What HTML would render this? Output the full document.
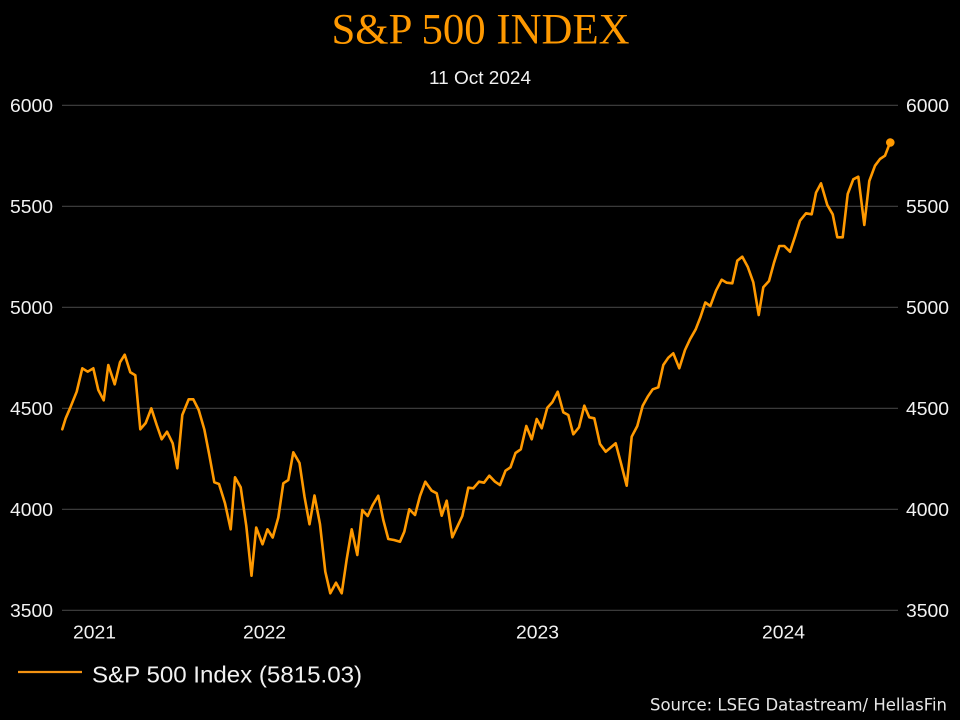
<!DOCTYPE html>
<html>
<head>
<meta charset="utf-8">
<style>
html,body{margin:0;padding:0;background:#000;}
svg{display:block;}
</style>
</head>
<body>
<svg width="960" height="720" viewBox="0 0 960 720" xmlns="http://www.w3.org/2000/svg">
<rect x="0" y="0" width="960" height="720" fill="#000"/>
<text x="480.5" y="43.3" text-anchor="middle" font-family="Liberation Serif, serif" font-size="43" fill="#FF9900" textLength="298" lengthAdjust="spacingAndGlyphs">S&amp;P 500 INDEX</text>
<text x="480" y="84" text-anchor="middle" font-family="Liberation Sans, sans-serif" font-size="18" fill="#f2f2f2" textLength="102" lengthAdjust="spacingAndGlyphs">11 Oct 2024</text>
<g stroke="#424242" stroke-width="1.2">
<line x1="62" y1="105.3" x2="898" y2="105.3"/>
<line x1="62" y1="206.3" x2="898" y2="206.3"/>
<line x1="62" y1="307.3" x2="898" y2="307.3"/>
<line x1="62" y1="408.3" x2="898" y2="408.3"/>
<line x1="62" y1="509.3" x2="898" y2="509.3"/>
<line x1="62" y1="610.3" x2="898" y2="610.3"/>
</g>
<g font-family="Liberation Sans, sans-serif" font-size="18" fill="#f2f2f2">
<text x="53" y="112" text-anchor="end" textLength="43" lengthAdjust="spacingAndGlyphs">6000</text>
<text x="53" y="213" text-anchor="end" textLength="43" lengthAdjust="spacingAndGlyphs">5500</text>
<text x="53" y="314" text-anchor="end" textLength="43" lengthAdjust="spacingAndGlyphs">5000</text>
<text x="53" y="415" text-anchor="end" textLength="43" lengthAdjust="spacingAndGlyphs">4500</text>
<text x="53" y="516" text-anchor="end" textLength="43" lengthAdjust="spacingAndGlyphs">4000</text>
<text x="53" y="617" text-anchor="end" textLength="43" lengthAdjust="spacingAndGlyphs">3500</text>
<text x="906" y="112" textLength="43" lengthAdjust="spacingAndGlyphs">6000</text>
<text x="906" y="213" textLength="43" lengthAdjust="spacingAndGlyphs">5500</text>
<text x="906" y="314" textLength="43" lengthAdjust="spacingAndGlyphs">5000</text>
<text x="906" y="415" textLength="43" lengthAdjust="spacingAndGlyphs">4500</text>
<text x="906" y="516" textLength="43" lengthAdjust="spacingAndGlyphs">4000</text>
<text x="906" y="617" textLength="43" lengthAdjust="spacingAndGlyphs">3500</text>
<text x="73" y="638.5" textLength="43" lengthAdjust="spacingAndGlyphs">2021</text>
<text x="243" y="638.5" textLength="43" lengthAdjust="spacingAndGlyphs">2022</text>
<text x="516" y="638.5" textLength="43" lengthAdjust="spacingAndGlyphs">2023</text>
<text x="762" y="638.5" textLength="43" lengthAdjust="spacingAndGlyphs">2024</text>
</g>
<polyline fill="none" stroke="#FF9900" stroke-width="2.6" stroke-linejoin="round" stroke-linecap="round" points="62.3,429.3 65.7,418.3 70,408.3 76.7,391.7 82.3,368.3 87.7,371.7 93.3,368.3 98.3,390 103.7,400.3 108.3,365 114.7,384.3 120,362.3 124.7,354.7 130.3,372.3 135.3,375.3 140.3,429.3 145.7,423 151.3,408.3 156.7,425 161.7,439.3 167,431.7 172.7,443.3 177.3,468.3 182.3,415 188.7,399.3 193.3,399.3 198.7,410 204.3,429.3 209.3,455 214.3,482.3 219,484 225,503.3 230.7,529.3 235,477.3 240.7,487.3 246.3,526 251.5,575.7 256.2,527.5 262.5,544.3 267.5,529.3 272.7,537.5 278.3,517.5 283.3,483.3 288.3,480 293.3,452.3 299.5,463 304.5,496.7 309.5,524.3 314.5,495.5 320,524.3 325.3,571.7 330.3,593.3 336,582.7 341.7,593.3 346.7,559.3 351.7,529.3 357.3,555 362.3,510 367.7,516 372.7,505 378.3,495.7 383.3,520 388.3,539 394,540 400,541.7 404.3,531.7 409.3,509.3 415,515 420,496 425.3,481.7 431.7,490.7 436.7,493.3 441.7,515.7 446.7,500.7 452.3,537.3 457.3,526.7 462.3,516 468.3,487.7 473.3,488.3 479,481.7 484,482.7 489.3,475.7 495,481.7 500,485 505.5,470.7 510.5,467.3 515.5,453 520.8,449.3 526.3,426 531.7,439.3 536.7,419 541.7,428.3 547.3,407.7 552.3,402.3 557.7,391.7 563.3,412.3 568.3,415 573.3,434.3 579,427.3 584.3,405.7 589.3,417.3 594.3,418.3 600,444 605.7,451.7 611,447.3 615.7,443.3 621,463.3 626.7,485.7 631.7,436.7 637.3,426 642.7,405.7 647.7,396.7 652.7,389.3 658.3,387.3 663.3,365 668.3,357.7 673.3,353.3 679.3,368.3 685,350 690,339.3 695.7,329.3 700.5,317 705.3,302.5 710.3,306 716,290.7 721.7,279.7 726.7,282.7 732.3,283.3 737.3,260.7 742.3,256.7 747.7,266.7 753.3,282.3 758.7,315 763.3,287.3 769,281 774,262.7 779.3,246 784.3,246 790,251.7 795,236.7 800,220.7 806,213.3 811.7,214.3 816,192.7 821,183.3 827.3,205 832.7,214.3 837.3,237.3 842.7,237.3 847.7,194 853.3,179.3 858.3,176.7 864.3,225 869.3,181 875,165.7 880,159 885,155.7 890,142.7"/>
<circle cx="890.3" cy="142.5" r="4.3" fill="#FF9900"/>
<line x1="18" y1="672" x2="82" y2="672" stroke="#F39212" stroke-width="2.2"/>
<text x="92" y="682.5" font-family="Liberation Sans, sans-serif" font-size="23.5" fill="#f2f2f2" textLength="270" lengthAdjust="spacingAndGlyphs">S&amp;P 500 Index (5815.03)</text>
<text x="650" y="710.7" font-family="DejaVu Sans, sans-serif" font-size="16.5" fill="#e6e6e6" textLength="297" lengthAdjust="spacingAndGlyphs">Source: LSEG Datastream/ HellasFin</text>
</svg>
</body>
</html>
